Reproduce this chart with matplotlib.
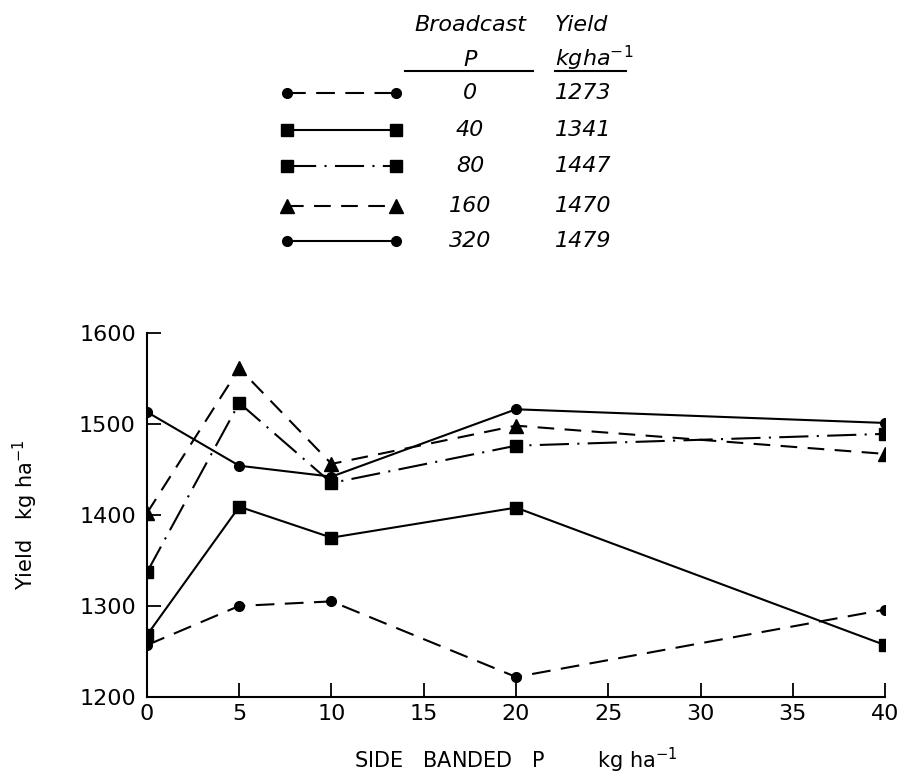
import matplotlib
matplotlib.use("Agg")
import matplotlib.pyplot as plt

# side banded P rates (kg/ha)
side_p = [0, 5, 10, 20, 40]

# broadcast P rates and their mean yields
broadcast_p = ["0", "40", "80", "160", "320"]
mean_yield = ["1273", "1341", "1447", "1470", "1479"]

# yield (kg/ha) for each broadcast rate
yield_0 = [1257, 1300, 1305, 1222, 1296]
yield_40 = [1268, 1409, 1375, 1408, 1257]
yield_80 = [1337, 1523, 1435, 1476, 1489]
yield_160 = [1402, 1561, 1456, 1498, 1467]
yield_320 = [1513, 1454, 1442, 1516, 1501]

x_ticks = [0, 5, 10, 15, 20, 25, 30, 35, 40]
y_ticks = [1200, 1300, 1400, 1500, 1600]

series = [yield_0, yield_40, yield_80, yield_160, yield_320]
styles = [
    dict(marker="o", ms=7, ls=(0, (9, 5))),
    dict(marker="s", ms=9, ls="-"),
    dict(marker="s", ms=9, ls=(0, (14, 4, 1, 4))),
    dict(marker="^", ms=10, ls=(0, (8, 5))),
    dict(marker="o", ms=7, ls="-"),
]

plt.rcParams["font.family"] = ["DejaVu Sans"]
fig = plt.figure(figsize=(9.04, 7.84), dpi=100)
ax = fig.add_axes([0.1626, 0.111, 0.8164, 0.4645])

for ys, st in zip(series, styles):
    ax.plot(side_p, ys, color="black", lw=1.5, mfc="black", mec="black", **st)

ax.set_xlim(0, 40)
ax.set_ylim(1200, 1600)
ax.set_xticks(x_ticks)
ax.set_yticks(y_ticks)
ax.tick_params(direction="in", length=10, width=1.3, labelsize=16)
ax.tick_params(axis="x", pad=5)
ax.tick_params(axis="y", pad=8)
ax.spines["top"].set_visible(False)
ax.spines["right"].set_visible(False)
ax.spines["left"].set_linewidth(1.5)
ax.spines["bottom"].set_linewidth(1.5)
ax.set_xlabel("SIDE   BANDED   P        kg ha$^{-1}$", fontsize=15, labelpad=16)
ax.set_ylabel("Yield   kg ha$^{-1}$", fontsize=15, labelpad=28)

# key table at top
key = fig.add_axes([0, 0, 1, 1])
key.set_xlim(0, 904)
key.set_ylim(784, 0)
key.axis("off")
tk = dict(fontsize=16, style="italic", va="center")
key.text(470, 25, "Broadcast", ha="center", **tk)
key.text(470, 60, "P", ha="center", **tk)
key.text(555, 25, "Yield", ha="left", **tk)
key.text(555, 58, "kgha$^{-1}$", ha="left", **tk)
key.plot([405, 533], [71, 71], color="black", lw=1.5)
key.plot([555, 626], [71, 71], color="black", lw=1.5)
rows_y = [93, 130, 166, 206, 241]
for ry, st, bp, my in zip(rows_y, styles, broadcast_p, mean_yield):
    key.plot([287, 396], [ry, ry], color="black", lw=1.5, mfc="black",
             mec="black", **st)
    key.text(470, ry, bp, ha="center", **tk)
    key.text(555, ry, my, ha="left", **tk)

fig.savefig("out.png", dpi=100)
